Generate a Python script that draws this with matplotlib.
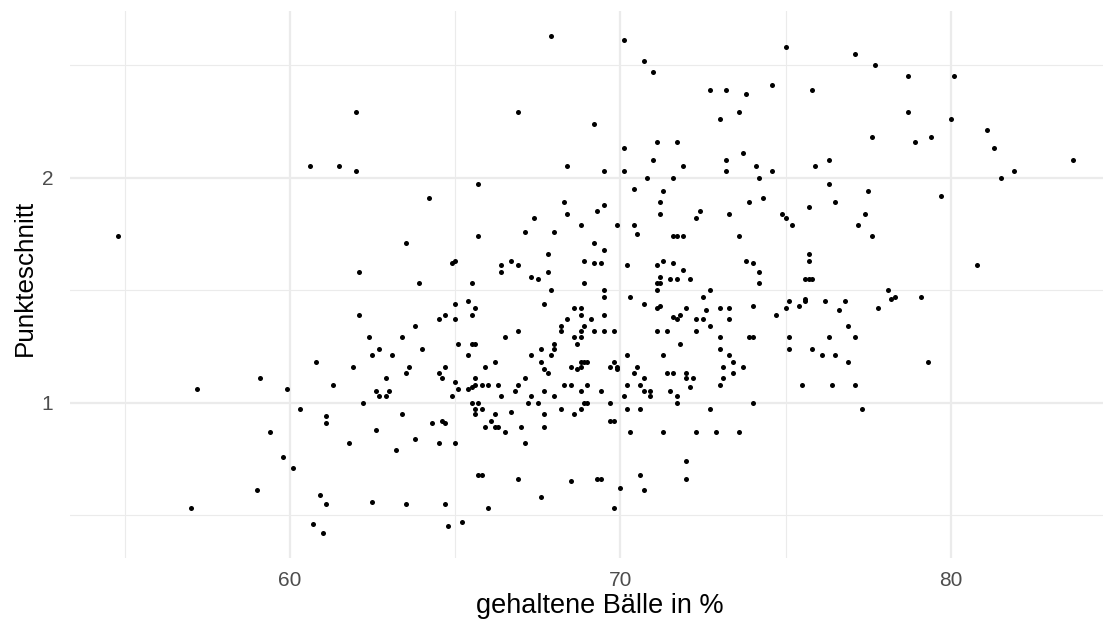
import matplotlib
matplotlib.use("Agg")
import matplotlib.pyplot as plt

# gehaltene Bälle (%) und Punkteschnitt je Spieler
gehalten = [
    60.6, 67.9, 62.0, 66.9, 69.2, 61.5, 62.0, 68.4, 65.7, 64.2,
    68.3, 70.1, 70.7, 71.0, 75.0, 77.1, 77.7, 72.7, 73.2, 73.8,
    74.6, 75.8, 73.0, 73.6, 77.6, 70.1, 71.1, 71.7, 71.0, 73.2,
    73.7, 76.3, 69.5, 70.1, 71.9, 73.2, 74.1, 74.6, 75.9, 70.8,
    71.6, 74.2, 70.4, 71.3, 76.3, 77.5, 69.5, 71.2, 73.9, 74.3,
    75.7, 76.5, 78.7, 80.1, 78.7, 80.0, 78.9, 79.4, 81.1, 81.3,
    83.7, 81.9, 81.5, 79.7, 54.8, 57.2, 59.1, 59.9, 60.8, 60.3,
    59.4, 59.8, 60.1, 59.0, 57.0, 60.9, 60.7, 61.0, 80.8, 78.1,
    78.2, 78.3, 79.1, 77.8, 79.3, 62.6, 62.7, 62.9, 63.0, 62.2,
    64.9, 61.1, 61.1, 63.4, 62.6, 61.8, 63.2, 63.8, 64.3, 64.6,
    64.7, 64.5, 65.0, 65.5, 65.7, 65.6, 65.6, 65.8, 66.2, 66.1,
    65.9, 66.2, 66.3, 66.5, 66.4, 66.8, 66.7, 67.0, 67.1, 67.2,
    67.3, 67.5, 67.7, 67.7, 67.7, 68.0, 68.2, 68.6, 68.8, 68.9,
    69.0, 68.8, 65.7, 65.8, 66.9, 67.6, 68.5, 69.3, 69.4, 61.1,
    62.5, 63.5, 64.7, 66.0, 64.8, 65.2, 69.4, 70.1, 70.7, 70.9,
    70.9, 71.5, 71.7, 71.7, 69.7, 70.2, 70.6, 72.7, 74.0, 77.3,
    69.7, 69.8, 70.3, 71.3, 72.3, 72.9, 73.6, 72.0, 72.0, 70.6,
    70.0, 70.7, 69.8, 69.3, 67.4, 68.4, 68.8, 65.7, 67.1, 68.0,
    63.5, 69.2, 67.8, 62.1, 64.9, 65.0, 66.4, 66.4, 66.7, 66.9,
    68.9, 69.2, 69.4, 67.3, 67.5, 67.8, 63.9, 65.5, 68.9, 67.9,
    65.0, 65.4, 65.6, 67.7, 62.1, 65.5, 64.5, 64.7, 65.0, 68.6,
    68.8, 68.8, 69.1, 68.4, 63.8, 68.2, 68.2, 68.9, 68.8, 69.2,
    66.9, 62.4, 63.4, 66.5, 68.6, 68.8, 68.7, 62.7, 64.0, 65.1,
    65.5, 65.6, 67.6, 68.0, 68.0, 62.5, 63.1, 65.4, 67.3, 67.9,
    61.9, 63.6, 64.7, 65.9, 66.2, 67.6, 67.7, 68.5, 68.7, 68.8,
    68.8, 68.9, 69.0, 67.8, 63.5, 64.5, 64.6, 62.9, 65.6, 67.1,
    61.3, 65.0, 65.4, 65.5, 65.6, 65.8, 66.0, 66.3, 66.9, 68.3,
    68.5, 69.0, 65.1, 71.2, 72.4, 72.3, 73.3, 74.9, 75.0, 75.2,
    77.4, 77.2, 77.6, 69.9, 70.4, 70.5, 71.6, 71.7, 71.9, 73.6,
    69.5, 70.2, 71.1, 71.3, 71.6, 71.9, 72.1, 71.2, 71.1, 71.2,
    71.5, 71.7, 73.8, 74.0, 74.2, 74.2, 75.7, 75.7, 75.6, 75.7,
    75.8, 69.5, 71.1, 72.7, 69.5, 70.3, 70.7, 72.5, 71.1, 71.2,
    72.0, 73.0, 73.3, 74.0, 69.5, 71.6, 71.7, 71.8, 72.3, 72.5,
    72.6, 73.3, 74.7, 75.0, 75.1, 75.4, 75.6, 75.6, 76.2, 76.6,
    76.8, 69.5, 69.8, 71.1, 71.4, 72.3, 72.7, 76.9, 73.0, 73.9,
    74.0, 75.1, 76.3, 77.1, 71.8, 73.0, 75.1, 75.8, 70.2, 71.3,
    73.3, 76.1, 76.5, 69.7, 69.8, 69.9, 69.9, 70.5, 70.4, 70.7,
    71.4, 71.6, 72.0, 72.0, 72.2, 72.1, 73.1, 73.0, 73.1, 73.4,
    73.4, 73.7, 76.9, 70.2, 70.6, 75.5, 76.4, 77.1,
]

punkte = [
    2.05, 2.63, 2.29, 2.29, 2.24, 2.05, 2.03, 2.05, 1.97, 1.91,
    1.89, 2.61, 2.52, 2.47, 2.58, 2.55, 2.50, 2.39, 2.39, 2.37,
    2.41, 2.39, 2.26, 2.29, 2.18, 2.13, 2.16, 2.16, 2.08, 2.08,
    2.11, 2.08, 2.03, 2.03, 2.05, 2.03, 2.05, 2.03, 2.05, 2.00,
    2.00, 2.00, 1.95, 1.94, 1.97, 1.94, 1.88, 1.89, 1.89, 1.91,
    1.87, 1.89, 2.45, 2.45, 2.29, 2.26, 2.16, 2.18, 2.21, 2.13,
    2.08, 2.03, 2.00, 1.92, 1.74, 1.06, 1.11, 1.06, 1.18, 0.97,
    0.87, 0.76, 0.71, 0.61, 0.53, 0.59, 0.46, 0.42, 1.61, 1.50,
    1.46, 1.47, 1.47, 1.42, 1.18, 1.05, 1.03, 1.03, 1.05, 1.00,
    1.03, 0.94, 0.91, 0.95, 0.88, 0.82, 0.79, 0.84, 0.91, 0.92,
    0.91, 0.82, 0.82, 1.00, 1.00, 0.97, 0.95, 0.97, 0.95, 0.92,
    0.89, 0.89, 0.89, 0.87, 1.03, 1.05, 0.96, 0.89, 0.82, 1.00,
    1.03, 1.00, 0.95, 0.89, 1.05, 1.03, 0.97, 0.95, 0.97, 1.00,
    1.00, 1.05, 0.68, 0.68, 0.66, 0.58, 0.65, 0.66, 0.66, 0.55,
    0.56, 0.55, 0.55, 0.53, 0.45, 0.47, 1.05, 1.03, 1.05, 1.05,
    1.03, 1.05, 1.03, 1.00, 1.00, 0.97, 0.97, 0.97, 1.00, 0.97,
    0.92, 0.92, 0.87, 0.87, 0.87, 0.87, 0.87, 0.74, 0.66, 0.68,
    0.62, 0.61, 0.53, 1.85, 1.82, 1.84, 1.79, 1.74, 1.76, 1.76,
    1.71, 1.71, 1.66, 1.58, 1.62, 1.63, 1.61, 1.58, 1.63, 1.61,
    1.63, 1.62, 1.62, 1.56, 1.55, 1.58, 1.53, 1.53, 1.53, 1.50,
    1.44, 1.45, 1.42, 1.44, 1.39, 1.39, 1.37, 1.39, 1.37, 1.42,
    1.42, 1.39, 1.37, 1.37, 1.34, 1.34, 1.32, 1.34, 1.32, 1.32,
    1.32, 1.29, 1.29, 1.29, 1.29, 1.29, 1.26, 1.24, 1.24, 1.26,
    1.26, 1.26, 1.24, 1.26, 1.24, 1.21, 1.21, 1.21, 1.21, 1.21,
    1.16, 1.16, 1.16, 1.16, 1.18, 1.18, 1.15, 1.16, 1.15, 1.16,
    1.18, 1.18, 1.18, 1.13, 1.13, 1.13, 1.11, 1.11, 1.11, 1.11,
    1.08, 1.09, 1.06, 1.07, 1.08, 1.08, 1.08, 1.08, 1.08, 1.08,
    1.08, 1.08, 1.06, 1.84, 1.85, 1.82, 1.84, 1.84, 1.82, 1.79,
    1.84, 1.79, 1.74, 1.79, 1.79, 1.75, 1.74, 1.74, 1.74, 1.74,
    1.68, 1.61, 1.61, 1.63, 1.62, 1.59, 1.55, 1.56, 1.53, 1.53,
    1.55, 1.55, 1.63, 1.62, 1.58, 1.53, 1.66, 1.63, 1.55, 1.55,
    1.55, 1.50, 1.50, 1.50, 1.47, 1.47, 1.44, 1.47, 1.42, 1.43,
    1.42, 1.42, 1.42, 1.43, 1.39, 1.38, 1.37, 1.39, 1.37, 1.37,
    1.41, 1.37, 1.39, 1.42, 1.45, 1.43, 1.46, 1.45, 1.45, 1.41,
    1.45, 1.32, 1.32, 1.32, 1.32, 1.32, 1.34, 1.34, 1.29, 1.29,
    1.29, 1.29, 1.29, 1.29, 1.26, 1.24, 1.24, 1.24, 1.21, 1.21,
    1.21, 1.21, 1.21, 1.16, 1.18, 1.16, 1.15, 1.16, 1.13, 1.11,
    1.13, 1.13, 1.13, 1.11, 1.11, 1.07, 1.16, 1.08, 1.11, 1.18,
    1.13, 1.16, 1.18, 1.08, 1.08, 1.08, 1.08, 1.08,
]

x_ticks = [60, 70, 80]
y_ticks = [1, 2]

plt.rcParams['font.family'] = ['Liberation Sans', 'DejaVu Sans']

W, H = 1110, 620
fig = plt.figure(figsize=(W / 100, H / 100), dpi=100)
fig.patch.set_facecolor('white')

# Panel in Pixeln: links 70, rechts 1103, oben 11, unten 558
ax = fig.add_axes([70 / W, (H - 558) / H, (1103 - 70) / W, (558 - 11) / H])
ax.scatter(gehalten, punkte, s=13, c='black', linewidths=0, zorder=3)

ax.set_xlim(53.35, 84.6)
ax.set_ylim(0.31, 2.74)
ax.set_xticks(x_ticks)
ax.set_xticks([55, 65, 75], minor=True)
ax.set_yticks(y_ticks)
ax.set_yticks([0.5, 1.5, 2.5], minor=True)

ax.set_axisbelow(True)
ax.grid(which='major', color='#EBEBEB', linewidth=1.6)
ax.grid(which='minor', color='#EBEBEB', linewidth=0.8)
for side in ax.spines.values():
    side.set_visible(False)
ax.tick_params(which='both', length=0)
ax.tick_params(axis='x', labelsize=15, labelcolor='#4D4D4D', pad=9)
ax.tick_params(axis='y', labelsize=15, labelcolor='#4D4D4D', pad=12)

# x-Titel knapp über dem unteren Rand
fig.text(600 / W, 1 - 613 / H, 'gehaltene Bälle in %', ha='center', va='baseline',
         fontsize=19.5, color='black')
fig.text(25 / W, 1 - 278 / H, 'Punkteschnitt', ha='center', va='center',
         rotation=90, fontsize=18.75, color='black')

fig.savefig('out.png', dpi=100)
